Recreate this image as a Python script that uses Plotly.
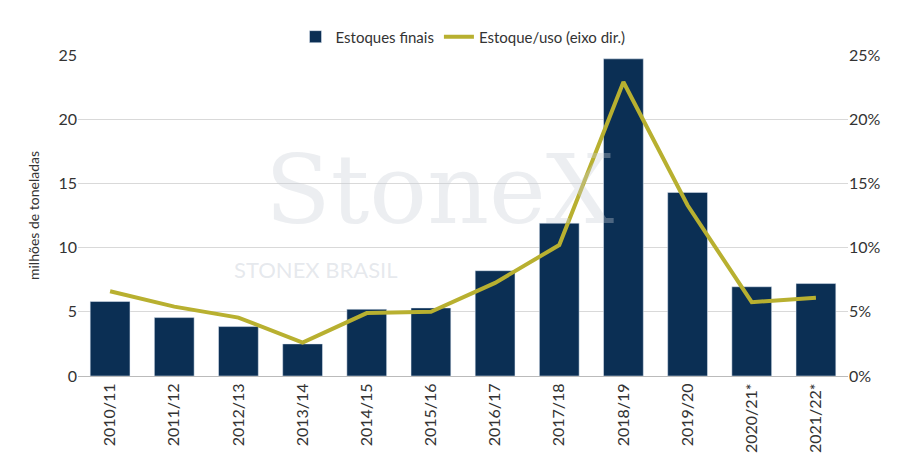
import plotly.graph_objects as go

safras = ["2010/11", "2011/12", "2012/13", "2013/14", "2014/15", "2015/16",
          "2016/17", "2017/18", "2018/19", "2019/20", "2020/21*", "2021/22*"]
estoques = [5.8, 4.55, 3.85, 2.5, 5.2, 5.3, 8.2, 11.9, 24.7, 14.3, 6.95, 7.2]
estoque_uso = [6.6, 5.4, 4.55, 2.6, 4.9, 5.0, 7.25, 10.2, 22.9, 13.3, 5.75, 6.1]

fig = go.Figure()
fig.add_trace(go.Bar(x=safras, y=estoques, name="Estoques finais",
                     marker_color="#0b2f54", width=0.62))
fig.add_trace(go.Scatter(x=safras, y=estoque_uso, name="Estoque/uso (eixo dir.)",
                         yaxis="y2", mode="lines",
                         line=dict(color="#b8b030", width=4)))

# marca d'água
fig.add_annotation(text="StoneX", x=0.47, y=0.76, xref="paper", yref="paper",
                   showarrow=False, font=dict(size=96, color="rgba(200,205,215,0.35)",
                                              family="DejaVu Serif"))
fig.add_annotation(text="STONEX BRASIL", x=0.2, y=0.285, xref="paper", yref="paper",
                   showarrow=False, xanchor="left",
                   font=dict(size=22, color="rgba(200,205,215,0.45)", family="Lato"))

fig.update_layout(
    width=906, height=465,
    paper_bgcolor="white", plot_bgcolor="white",
    font=dict(family="Lato", size=15, color="#333"),
    margin=dict(l=70, r=66, t=44, b=97),
    legend=dict(orientation="h", x=0.5, xanchor="center", y=1.005, yanchor="bottom",
                font=dict(size=15)),
    xaxis=dict(tickangle=-90, showline=True, linecolor="#bbb", showgrid=False,
               tickfont=dict(size=16), automargin=False),
    yaxis=dict(range=[0, 25], dtick=5, gridcolor="#d9d9d9",
               title=dict(text="milhões de toneladas", font=dict(size=14)),
               zeroline=False, tickfont=dict(size=16), automargin=False),
    yaxis2=dict(range=[0, 25], dtick=5, overlaying="y", side="right",
                ticksuffix="%", showgrid=False, zeroline=False, tickfont=dict(size=16),
                automargin=False),
)

fig.write_html("out.html")
